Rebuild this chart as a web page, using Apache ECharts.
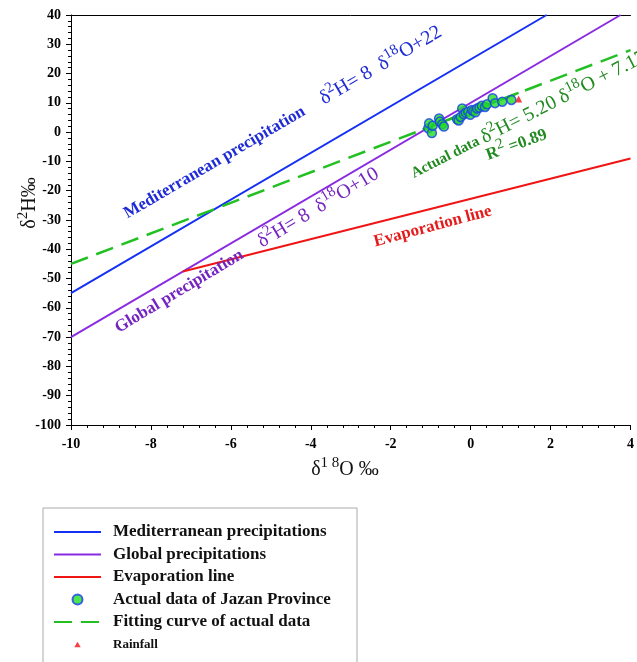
<!DOCTYPE html>
<html>
<head>
<meta charset="utf-8">
<script src="https://cdn.jsdelivr.net/npm/echarts@6/dist/echarts.min.js"></script>
<style>
  html, body { margin: 0; padding: 0; background: #fff; }
  #chart { width: 637px; height: 662px; }
</style>
</head>
<body>
<div id="chart"></div>
<script>
// reference lines, [δ18O, δ2H]
const medLine = [[-10, -55], [1.9, 40]]
const globalLine = [[-10, -70], [3.75, 40]]
const evapLine = [[-7.2, -47.6], [-5, -40], [4, -9]]
const fitLine = [[-10, -45], [4, 28]]
const fitSolid = [[-1.2, 0.9], [1.2, 13.4]]

// measured samples (Jazan Province)
const jazanO18 = [-1.06, -1.04, -0.97, -0.95, -0.79, -0.77, -0.71, -0.67, -0.34, -0.30, -0.25, -0.21, -0.17, -0.12,
  -0.06, -0.01, 0.03, 0.07, 0.12, 0.16, 0.22, 0.28, 0.36, 0.41, 0.55, 0.61, 0.79, 1.02]
const jazanH2 = [1.3, 3.0, -0.3, 2.2, 4.7, 3.6, 2.7, 1.9, 4.4, 4.0, 5.2, 8.1, 6.1, 6.6,
  7.0, 5.9, 7.6, 7.2, 6.8, 8.1, 8.4, 9.0, 8.6, 9.5, 11.6, 9.9, 10.4, 11.0]
const rainfall = [[1.2, 11.3]]

const legendNames = [
  'Mediterranean precipitations',
  'Global precipitations',
  'Evaporation line',
  'Actual data of Jazan Province',
  'Fitting curve of actual data',
  'Rainfall',
]
const lineItems = [0, 1, 2, 4]
// small triangle inside a 14x14 box so the legend keeps it small
const smallTriangle = 'path://M0,0L0,0M7,3L11.5,11L2.5,11ZM14,14L14,14'

const FONT = 'Liberation Serif'

const makeRich = (color) => ({
  b: { fontFamily: FONT, fontWeight: 'bold', fontSize: 17, lineHeight: 28, fill: color },
  bs: { fontFamily: FONT, fontWeight: 'bold', fontSize: 15, lineHeight: 28, fill: color },
  e: { fontFamily: FONT, fontSize: 20, lineHeight: 28, fill: color },
  s: { fontFamily: FONT, fontSize: 15, lineHeight: 15, verticalAlign: 'top', fill: color },
})

// annotations placed in data coordinates
const notes = [
  { at: [-4.7, 3.2], rot: 30.3, color: '#1f2bd6',
    text: '{b|Mediterranean precipitation}{e|    δ}{s|2}{e|H= 8  δ}{s|18}{e|O+22}' },
  { at: [-5.6, -40.5], rot: 31, color: '#7424c0',
    text: '{b|Global precipitation}{e|    δ}{s|2}{e|H= 8  δ}{s|18}{e|O+10}' },
  { at: [-0.95, -32.2], rot: 15, color: '#e51a1a', text: '{b|Evaporation line}' },
  { at: [1.45, 5.8], rot: 27, color: '#218a21',
    text: '{bs|Actual data }{e|δ}{s|2}{e|H= 5.20 δ}{s|18}{e|O + 7.17}' },
  { at: [1.15, -4.4], rot: 20, color: '#218a21', text: '{b|R}{s|2}{b| =0.89}' },
]

const chart = echarts.init(document.getElementById('chart'))

const axisCommon = {
  type: 'value',
  axisLine: { onZero: false, lineStyle: { color: '#000', width: 1 } },
  axisTick: { show: true, length: 5, lineStyle: { color: '#000' } },
  minorTick: { show: true, splitNumber: 5, length: 3, lineStyle: { color: '#000' } },
  splitLine: { show: false },
  axisLabel: { fontFamily: FONT, fontWeight: 'bold', fontSize: 14, color: '#000' },
}

const lineSeries = (name, data, color, extra) => ({
  name,
  type: 'line',
  data,
  symbol: 'none',
  silent: true,
  lineStyle: Object.assign({ color, width: 2 }, extra || {}),
  itemStyle: { color },
})

chart.setOption({
  animation: false,
  grid: { left: 71, top: 15, right: 1, bottom: 237, containLabel: false },
  xAxis: [
    Object.assign({}, axisCommon, {
      min: -10, max: 4, interval: 2,
      axisLabel: Object.assign({}, axisCommon.axisLabel, { margin: 12 }),
    }),
    {
      type: 'value', position: 'top', min: -10, max: 4,
      axisLine: { onZero: false, lineStyle: { color: '#000' } },
      axisTick: { show: false }, axisLabel: { show: false }, splitLine: { show: false },
    },
  ],
  yAxis: Object.assign({}, axisCommon, {
    min: -100, max: 40, interval: 10,
    axisLabel: Object.assign({}, axisCommon.axisLabel, { margin: 10 }),
  }),
  legend: {
    orient: 'vertical',
    left: 53,
    top: 523,
    padding: 0,
    itemWidth: 47,
    itemHeight: 10,
    itemGap: 4.5,
    selectedMode: false,
    textStyle: { fontFamily: FONT, fontWeight: 'bold', fontSize: 17, color: '#111', lineHeight: 18, padding: [0, 0, 0, 7] },
    data: legendNames.map((n, i) => {
      if (n === 'Rainfall') return { name: n, icon: smallTriangle, textStyle: { fontSize: 13 } }
      if (lineItems.includes(i)) return { name: n, itemStyle: { opacity: 0 } }
      return n
    }),
  },
  series: [
    lineSeries(legendNames[0], medLine, '#1530f5'),
    lineSeries(legendNames[1], globalLine, '#8a2be2'),
    lineSeries(legendNames[2], evapLine, '#f01515'),
    lineSeries(legendNames[4], fitLine, '#22c022', { width: 2.5, type: [18, 9] }),
    lineSeries('fit-solid', fitSolid, '#22c022', { width: 2.5 }),
    {
      name: legendNames[3],
      type: 'scatter',
      data: jazanO18.map((x, i) => [x, jazanH2[i]]),
      symbolSize: 9,
      itemStyle: { color: '#22dd22', borderColor: '#1a3cf0', borderWidth: 1.5 },
      z: 5,
    },
    {
      name: legendNames[5],
      type: 'scatter',
      data: rainfall,
      symbol: 'triangle',
      symbolSize: 7,
      itemStyle: { color: '#f01010' },
      z: 6,
    },
  ],
})

const graphics = notes.map(n => {
  const p = chart.convertToPixel({ gridIndex: 0 }, n.at)
  return {
    type: 'text',
    x: p[0],
    y: p[1],
    rotation: n.rot * Math.PI / 180,
    silent: true,
    z: 10,
    style: { text: n.text, rich: makeRich(n.color), align: 'center', verticalAlign: 'middle' },
  }
})

const black = '#111'
graphics.push(
  {
    type: 'text', x: 30, y: 203, rotation: Math.PI / 2, silent: true,
    style: { text: '{e|δ}{s|2}{e|H‰}', rich: makeRich(black), align: 'center', verticalAlign: 'middle' },
  },
  {
    type: 'text', x: 345, y: 470, silent: true,
    style: { text: '{e|δ}{s|1 8}{e|O ‰}', rich: makeRich(black), align: 'center', verticalAlign: 'middle' },
  },
  {
    type: 'rect', silent: true,
    shape: { x: 43, y: 508, width: 314, height: 200 },
    style: { fill: 'none', stroke: '#aaa', lineWidth: 1 },
  }
)

chart.setOption({ graphic: graphics })
</script>
</body>
</html>
